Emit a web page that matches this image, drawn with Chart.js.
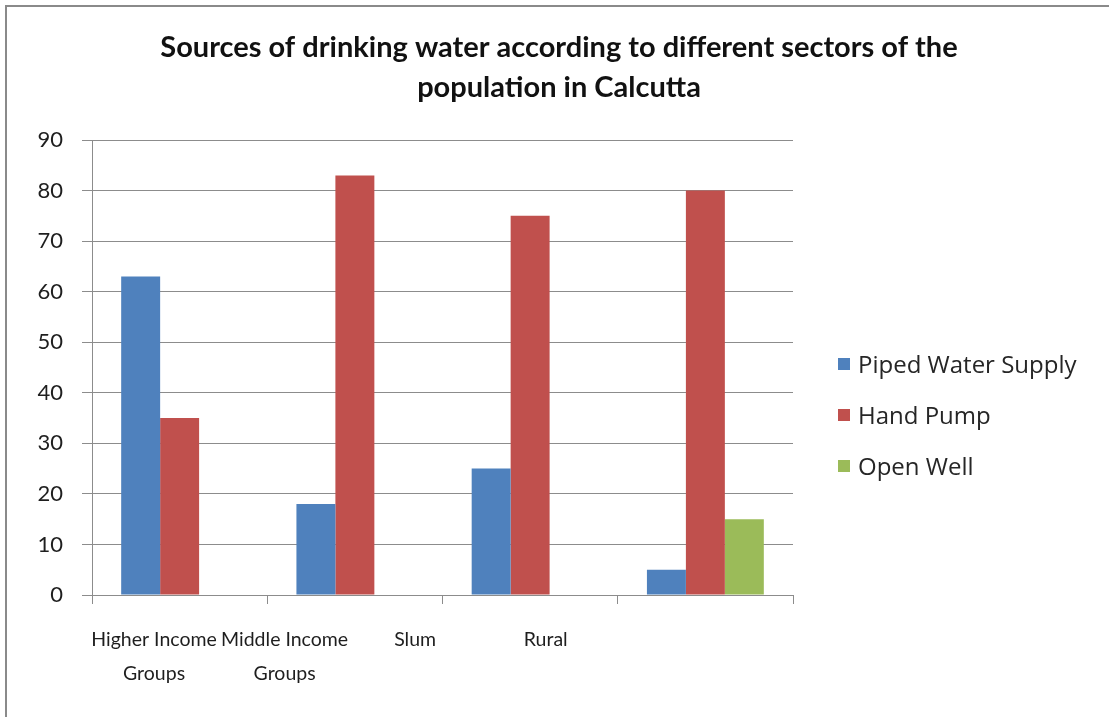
<!DOCTYPE html>
<html>
<head>
<meta charset="utf-8">
<script src="https://cdn.jsdelivr.net/npm/chart.js@4/dist/chart.umd.min.js"></script>
<style>
  html, body { margin: 0; padding: 0; background: #fff; }
  #wrap { position: relative; width: 1109px; height: 717px; overflow: hidden; }
  #frame { position: absolute; left: 5px; top: 5px; right: -4px; bottom: -4px;
           border-top: 2px solid #8a8a8a; border-left: 2px solid #8a8a8a; }
  #legend { position: absolute; left: 838px; top: 338px; font-family: "Open Sans", sans-serif;
            font-size: 24px; color: #262626; }
  #legend .item { display: flex; align-items: center; height: 51px; }
  #legend .box { width: 12px; height: 12px; margin-right: 8px; }
</style>
</head>
<body>
<div id="wrap">
  <canvas id="chart" width="1109" height="717"></canvas>
  <div id="frame"></div>
  <div id="legend"></div>
</div>
<script>
// Data
const categories = [['Higher Income', 'Groups'], ['Middle Income', 'Groups'], ['Slum'], ['Rural']];
const seriesNames = ['Piped Water Supply', 'Hand Pump', 'Open Well'];
const pipedWater = [63, 18, 25, 5];
const handPump = [35, 83, 75, 80];
const openWell = [0, 0, 0, 15];
const yTicks = [0, 10, 20, 30, 40, 50, 60, 70, 80, 90];
const colors = ['#4f81bd', '#c0504d', '#9bbb59'];

// category labels in the picture sit left of the group centres, spaced closer together
const LABEL_START = -0.146;
const LABEL_STEP = 0.745;

const font = 'Lato, sans-serif';
const gridColor = '#8c8c8c';
const textColor = '#1e1e1e';

function drawChart() {
  const ctx = document.getElementById('chart').getContext('2d');
  const values = [pipedWater, handPump, openWell];

  new Chart(ctx, {
    type: 'bar',
    data: {
      labels: categories.map(c => c.join(' ')),
      datasets: seriesNames.map((name, i) => ({
        label: name,
        data: values[i],
        backgroundColor: colors[i],
        borderWidth: 0,
        barPercentage: 1,
        categoryPercentage: 0.667
      }))
    },
    options: {
      responsive: false,
      animation: false,
      layout: { padding: { left: 9, right: 0, top: 0, bottom: 0 } },
      plugins: {
        legend: { display: false },
        tooltip: { enabled: false },
        title: {
          display: true,
          text: ['Sources of drinking water according to different sectors of the', 'population in Calcutta'],
          color: '#111',
          font: { family: font, size: 29, weight: 'bold', lineHeight: 40 / 29 },
          padding: { top: 28, bottom: 32 }
        }
      },
      scales: {
        x: {
          type: 'category',
          weight: 0,
          grid: { drawOnChartArea: false, drawTicks: true, tickLength: 9, color: gridColor, offset: true },
          border: { display: true, color: gridColor },
          ticks: { display: false },
          afterFit: axis => { axis.height = 10; }
        },
        xl: {
          type: 'linear',
          position: 'bottom',
          weight: 1,
          offset: false,
          min: -0.5,
          max: 3.5,
          grid: { display: false, drawTicks: false, offset: false },
          border: { display: false },
          afterBuildTicks: axis => {
            axis.ticks = categories.map((c, i) => ({ value: LABEL_START + i * LABEL_STEP }));
          },
          ticks: {
            autoSkip: false,
            maxRotation: 0,
            padding: 18,
            color: textColor,
            font: { family: font, size: 19.5, lineHeight: 34 / 19.5 },
            callback: (v, i) => categories[i]
          },
          afterFit: axis => { axis.height = 112; }
        },
        y: {
          min: 0,
          max: 90,
          afterBuildTicks: axis => { axis.ticks = yTicks.map(v => ({ value: v })); },
          grid: { color: gridColor, tickLength: 10 },
          border: { display: true, color: gridColor },
          ticks: {
            padding: 19,
            color: textColor,
            font: { family: font, size: 22 }
          },
          afterFit: axis => { axis.width = 83; }
        },
        // empty right-hand box that leaves room for the legend, so the title stays centred on the page
        yr: {
          type: 'linear',
          position: 'right',
          grid: { display: false, drawTicks: false },
          border: { display: false },
          ticks: { display: false },
          afterFit: axis => { axis.width = 316; }
        }
      }
    }
  });
}

function drawLegend() {
  const el = document.getElementById('legend');
  seriesNames.forEach((name, i) => {
    const item = document.createElement('div');
    item.className = 'item';
    const box = document.createElement('span');
    box.className = 'box';
    box.style.background = colors[i];
    const txt = document.createElement('span');
    txt.textContent = name;
    item.appendChild(box);
    item.appendChild(txt);
    el.appendChild(item);
  });
}

document.addEventListener('DOMContentLoaded', () => {
  drawChart();
  drawLegend();
});
</script>
</body>
</html>
